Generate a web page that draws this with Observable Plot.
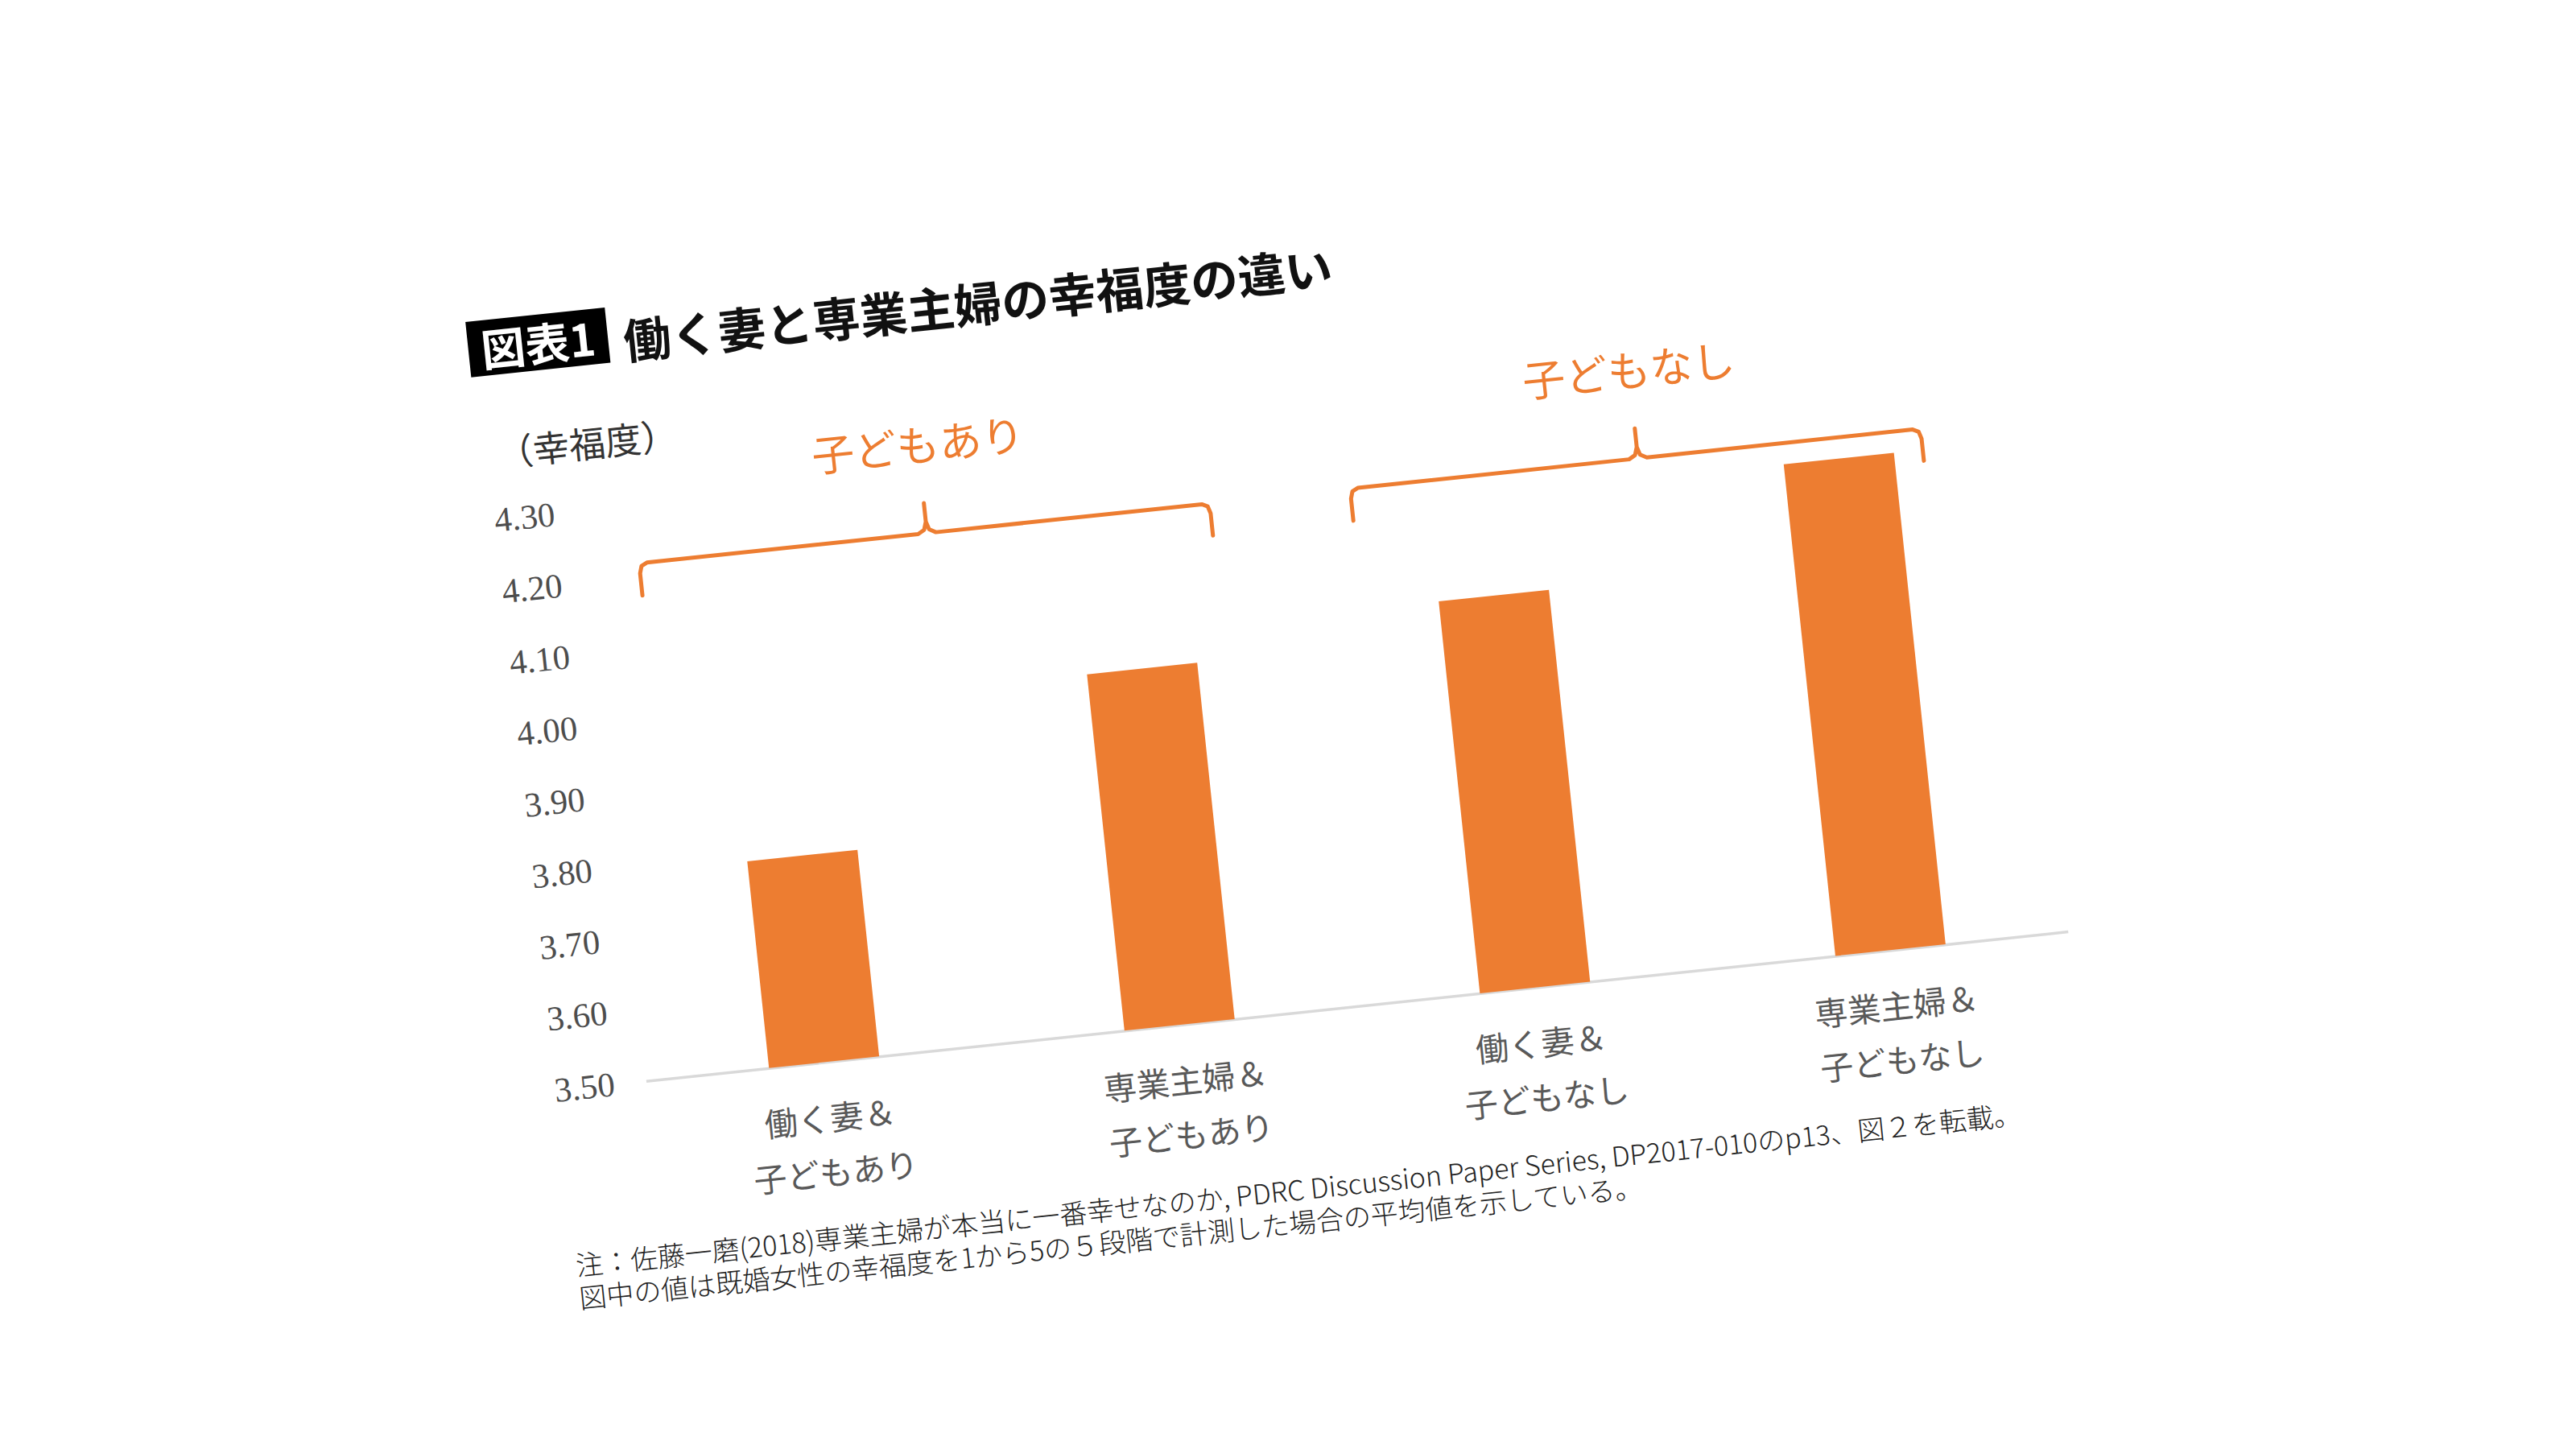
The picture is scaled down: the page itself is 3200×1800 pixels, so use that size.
<!DOCTYPE html>
<html>
<head>
<meta charset="utf-8">
<script src="https://cdn.jsdelivr.net/npm/d3@7"></script>
<script src="https://cdn.jsdelivr.net/npm/@observablehq/plot@0.6"></script>
<style>
html, body { margin: 0; padding: 0; background: #fff; }
#page { position: relative; width: 3200px; height: 1800px; overflow: hidden; background: #fff; }
#frame { position: absolute; left: 0; top: 0; width: 3200px; height: 1800px;
  transform-origin: 1600px 900px; transform: rotate(-6deg); }
#badge { position: absolute; left: 636px; top: 296px; width: 174px; height: 69px;
  background: #000; color: #fff; font: 700 55px "Noto Sans CJK JP", sans-serif;
  display: flex; align-items: center; justify-content: center; line-height: 1; }
#title { position: absolute; left: 829px; top: 295px; height: 69px; line-height: 69px;
  font: 700 59px "Noto Sans CJK JP", sans-serif; color: #111; white-space: nowrap; }
#chart { position: absolute; left: 0; top: 0; }
#notes { position: absolute; left: 650px; top: 1454px; font: 300 34px "Noto Sans CJK JP", sans-serif;
  line-height: 41px; color: #222; white-space: nowrap; }
</style>
</head>
<body>
<div id="page"><div id="frame">
  <div id="badge"></div>
  <div id="title"></div>
  <div id="chart"></div>
  <div id="notes"></div>
</div></div>
<script>
// ---- data ----
const categories = ["働く妻＆子どもあり", "専業主婦＆子どもあり", "働く妻＆子どもなし", "専業主婦＆子どもなし"];
const happiness = [3.79, 4.00, 4.05, 4.19];
const yTicks = [3.5, 3.6, 3.7, 3.8, 3.9, 4.0, 4.1, 4.2, 4.3];
const groupLabels = ["子どもあり", "子どもなし"];
const groupFirst = [0, 2];
const groupLast = [1, 3];
const titleBadge = "図表1";
const titleText = "働く妻と専業主婦の幸福度の違い";
const yLabel = "（幸福度）";
const noteLines = [
  "注：佐藤一磨(2018)専業主婦が本当に一番幸せなのか, PDRC Discussion Paper Series, DP2017-010のp13、図２を転載。",
  "図中の値は既婚女性の幸福度を1から5の５段階で計測した場合の平均値を示している。"
];

// ---- styling constants ----
const orange = "#ED7D31";
const gray = "#595959";
const barHalf = 0.155;

document.getElementById("badge").textContent = titleBadge;
document.getElementById("title").textContent = titleText;
document.getElementById("notes").innerHTML = noteLines.map(s => `<div>${s}</div>`).join("");

const bars = categories.map((c, i) => {
  const k = c.indexOf("＆");
  return {i, value: happiness[i], l1: c.slice(0, k + 1), l2: c.slice(k + 1)};
});

// bracket geometry derived from group membership
const yLine = 4.22, yLeg = 4.175, yTip = 4.262;
const groups = groupLabels.map((label, g) => {
  const L = groupFirst[g] - 0.37, R = groupLast[g] + 0.235;
  const T = (groupFirst[g] + groupLast[g]) / 2 - 0.06;
  return {label, L, R, T};
});
const bracketPts = groups.flatMap((b, g) => [
  [b.L, yLeg], [b.L, yLine - 0.014], [b.L + 0.006, yLine - 0.004], [b.L + 0.022, yLine],
  [b.T - 0.025, yLine], [b.T - 0.007, yLine + 0.005], [b.T, yLine + 0.016], [b.T, yTip],
  [b.T, yLine + 0.016], [b.T + 0.007, yLine + 0.005], [b.T + 0.025, yLine],
  [b.R - 0.022, yLine], [b.R - 0.006, yLine - 0.004], [b.R, yLine - 0.014], [b.R, yLeg]
].map(([x, y]) => ({g, x, y})));

const chart = Plot.plot({
  width: 3200,
  height: 1500,
  marginLeft: 761,
  marginRight: 663,
  marginTop: 545,
  marginBottom: 243,
  style: {background: "transparent", overflow: "visible", fontFamily: "'Noto Sans CJK JP', sans-serif"},
  x: {type: "linear", domain: [-0.5, 3.5], axis: null},
  y: {domain: [3.5, 4.3]},
  marks: [
    Plot.axisY({ticks: yTicks, tickSize: 0, tickPadding: 40, tickFormat: d3.format(".2f"),
      fontSize: 43, fontFamily: "'Liberation Serif', serif", fill: "#4d4d4d", label: null}),
    Plot.ruleY([3.5], {stroke: "#D9D9D9", strokeWidth: 3.5}),
    Plot.rect(bars, {x1: d => d.i - barHalf, x2: d => d.i + barHalf, y1: 3.5, y2: "value", fill: orange}),
    Plot.text(bars, {x: "i", y: 3.5, text: d => d.l1 + "\n" + d.l2, dy: 97, lineHeight: 1.65,
      fontSize: 41, fill: gray}),
    Plot.line(bracketPts, {x: "x", y: "y", z: "g", stroke: orange, strokeWidth: 5,
      strokeLinejoin: "round", curve: "linear"}),
    Plot.text(groups, {x: "T", y: 4.34, text: "label", fontSize: 53, fill: orange}),
    Plot.text([yLabel], {frameAnchor: "top-left", textAnchor: "middle", dx: 9, dy: -98,
      fontSize: 45, fill: "#333"})
  ]
});
document.getElementById("chart").appendChild(chart);
</script>
</body>
</html>
